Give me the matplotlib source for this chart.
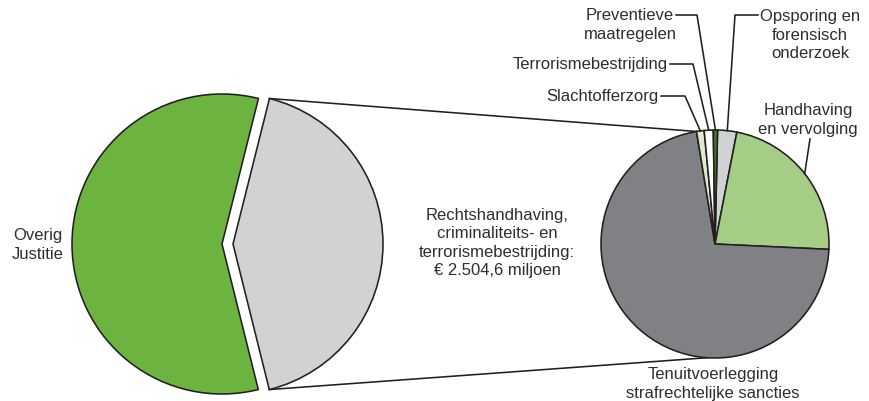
import numpy as np
import matplotlib
matplotlib.use("Agg")
import matplotlib.pyplot as plt

plt.rcParams['font.family'] = ['Liberation Sans', 'DejaVu Sans']

# Left pie: total Justitie split (EUR mln)
left_labels = ["Rechtshandhaving, criminaliteits- en terrorismebestrijding", "Overig Justitie"]
left_values = [2504.6, 3430.0]
left_colors = ["#d1d2d4", "#6db33f"]

# Right pie: breakdown of Rechtshandhaving (EUR mln), clockwise from top
right_labels = ["Opsporing en\nforensisch\nonderzoek", "Handhaving\nen vervolging",
                "Tenuitvoerlegging\nstrafrechtelijke sancties", "Slachtofferzorg",
                "Terrorismebestrijding", "Preventieve\nmaatregelen"]
right_values = [68, 568, 1795, 27, 32, 15]
right_colors = ["#d1d2d4", "#a5cd86", "#808184", "#dcebd0", "#ffffff", "#3d7a2b"]

center_text = "Rechtshandhaving,\ncriminaliteits- en\nterrorismebestrijding:\n€ 2.504,6 miljoen"

W, H = 869, 402
fig = plt.figure(figsize=(W / 100, H / 100), dpi=100)
ax = fig.add_axes([0, 0, 1, 1])

EC = "#231f20"
TC = "#2e2e2e"
FS = 12
LS = 1.28
LW = 1.15

def Y(yp):
    return H - yp

# Left pie
lw_wedges, _ = ax.pie(left_values, colors=left_colors, startangle=-76, counterclock=True,
                      center=(222, Y(245)), radius=150, explode=[11, 0],
                      wedgeprops=dict(edgecolor=EC, linewidth=LW))

# Right pie
rc = (715, Y(245))
rr = 114
rw_wedges, _ = ax.pie(right_values, colors=right_colors, startangle=88.7, counterclock=False,
                      center=rc, radius=rr,
                      wedgeprops=dict(edgecolor=EC, linewidth=LW))

ax.set_xlim(0, W)
ax.set_ylim(0, H)
ax.set_aspect('equal')
ax.axis('off')

def pt_on(center, r, ang):
    a = np.deg2rad(ang)
    return center[0] + r * np.cos(a), center[1] + r * np.sin(a)

def mid(w):
    return (w.theta1 + w.theta2) / 2

# connector lines from gray slice to right pie
g = lw_wedges[0]
gtop = pt_on(g.center, g.r, g.theta2)
gbot = pt_on(g.center, g.r, g.theta1)
tin = rw_wedges[2]
rtop = pt_on(rc, rr, tin.theta1)
rbot = pt_on(rc, rr, 266)
ax.plot([gtop[0], rtop[0]], [gtop[1], rtop[1]], color=EC, lw=LW, zorder=0)
ax.plot([gbot[0], rbot[0]], [gbot[1], rbot[1]], color=EC, lw=LW, zorder=0)

# labels with leader lines
def leader(idx, pts, r_frac=1.0):
    w = rw_wedges[idx]
    end = pt_on(rc, rr * r_frac, mid(w))
    xs = [p[0] for p in pts] + [end[0]]
    ys = [Y(p[1]) for p in pts] + [end[1]]
    ax.plot(xs, ys, color=EC, lw=LW, zorder=3)

txt = dict(fontsize=FS, color=TC, linespacing=LS)

# Preventieve maatregelen
ax.text(630, Y(25), right_labels[5], ha='center', va='center', **txt)
leader(5, [(676, 16), (697, 16)])
# Opsporing
ax.text(810, Y(35), right_labels[0], ha='center', va='center', **txt)
leader(0, [(758, 16), (735, 16)])
# Terrorismebestrijding
ax.text(668, Y(65), right_labels[4], ha='right', va='center', **txt)
leader(4, [(670, 65), (693, 65)])
# Slachtofferzorg
ax.text(659, Y(97), right_labels[3], ha='right', va='center', **txt)
leader(3, [(661, 97), (685, 97)])
# Handhaving
ax.text(808, Y(120), right_labels[1], ha='center', va='center', **txt)
leader(1, [(810, 140)])
# Tenuitvoerlegging
ax.text(713, Y(384), right_labels[2], ha='center', va='center', **txt)

# Left label
ax.text(38, Y(245), "Overig\nJustitie", ha='center', va='center', **txt)

# Center text
ax.text(497, Y(243), center_text, ha='center', va='center', **txt)

fig.savefig("out.png", dpi=100)
